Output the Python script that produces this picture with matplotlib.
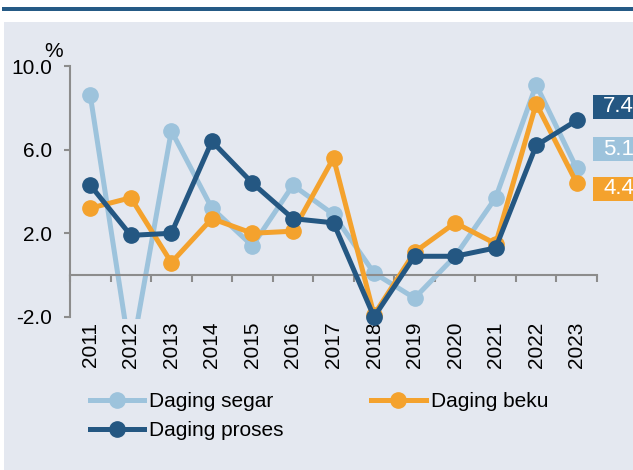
import matplotlib
matplotlib.use("Agg")
import matplotlib.pyplot as plt
from matplotlib.patches import Rectangle
from matplotlib.lines import Line2D
import numpy as np

years = [str(y) for y in range(2011, 2024)]
segar = [8.6, -4.0, 6.9, 3.2, 1.4, 4.3, 2.9, 0.1, -1.1, 0.9, 3.7, 9.1, 5.1]
beku = [3.2, 3.7, 0.6, 2.7, 2.0, 2.1, 5.6, -1.9, 1.1, 2.5, 1.5, 8.2, 4.4]
proses = [4.3, 1.9, 2.0, 6.4, 4.4, 2.7, 2.5, -2.0, 0.9, 0.9, 1.3, 6.2, 7.4]

c_segar = "#9DC3DC"
c_beku = "#F4A22D"
c_proses = "#245782"
bg = "#E4E8F0"
grey = "#8C8C8C"

plt.rcParams["font.family"] = ["Liberation Sans", "DejaVu Sans"]
W, H = 633, 470
fig = plt.figure(figsize=(W / 100, H / 100), dpi=100)
fig.patch.set_facecolor("white")

def fx(px):
    return px / W

def fy(py):
    return 1 - py / H

# background panel and top bar
fig.patches.append(Rectangle((fx(4), 0), 1, fy(22), transform=fig.transFigure,
                             facecolor=bg, edgecolor="none", zorder=-2))
fig.patches.append(Rectangle((fx(2), fy(11)), 1, 4 / H, transform=fig.transFigure,
                             facecolor="#255A85", edgecolor="none", zorder=-2))

ax = fig.add_axes([fx(70), fy(319), fx(597) - fx(70), fy(66) - fy(319)])
ax.set_facecolor("none")
ax.set_zorder(1)

# markers may poke a little below the plot area, as in the original
clip = Rectangle((-0.02, -0.04), 1.04, 1.1, transform=ax.transAxes,
                 facecolor="none", edgecolor="none")

x = np.arange(len(years))
series = [(segar, c_segar), (beku, c_beku), (proses, c_proses)]
for i, (vals, col) in enumerate(series):
    ax.plot(x, vals, color=col, lw=3.6, solid_capstyle="round", zorder=2 + i)
    m, = ax.plot(x, vals, ls="none", marker="o", ms=11, color=col, zorder=2 + i)
    m.set_clip_path(clip)

ax.set_xlim(-0.5, len(years) - 0.5)
ax.set_ylim(-2.1, 10)
ax.set_yticks([-2, 2, 6, 10])
ax.set_yticklabels(["-2.0", "2.0", "6.0", "10.0"])
ax.spines["left"].set_bounds(-2, 10)
ax.spines["bottom"].set_position(("data", 0))
ax.spines["top"].set_visible(False)
ax.spines["right"].set_visible(False)
for s in ["left", "bottom"]:
    ax.spines[s].set_color(grey)
    ax.spines[s].set_linewidth(1.5)
ax.set_xticks(np.arange(-0.5, len(years), 1.0))
ax.set_xticklabels([])
ax.tick_params(axis="x", direction="out", length=5, width=1.5, color=grey)
ax.tick_params(axis="y", direction="out", length=4, width=1.5, color=grey,
               labelsize=15, pad=9)

for i, yr in enumerate(years):
    ax.annotate(yr, xy=(i, 0), xycoords=ax.get_xaxis_transform(),
                xytext=(0, -2), textcoords="offset points",
                rotation=90, ha="center", va="top", fontsize=15)

fig.text(fx(54), fy(52), "%", fontsize=15, ha="center", va="center")

# end value boxes
boxes = [(proses, c_proses, 95), (segar, c_segar, 137), (beku, c_beku, 177)]
for vals, col, top in boxes:
    fig.patches.append(Rectangle((fx(593), fy(top + 24)), 1, 24 / H,
                                 transform=fig.transFigure, facecolor=col,
                                 edgecolor="none", zorder=5))
    fig.text(fx(603), fy(top + 12), f"{vals[-1]:.1f}", color="white", fontsize=16,
             ha="left", va="center", zorder=6)

handles = [
    Line2D([], [], color=c_segar, lw=3.6, marker="o", ms=11),
    Line2D([], [], color=c_proses, lw=3.6, marker="o", ms=11),
    Line2D([], [], color=c_beku, lw=3.6, marker="o", ms=11),
]
labels = ["Daging segar", "Daging proses", "Daging beku"]
fig.legend(handles, labels, ncol=2, loc="upper left",
           bbox_to_anchor=(fx(90), fy(392)), frameon=False, fontsize=15,
           handlelength=2.6, handletextpad=0.25, columnspacing=4.2,
           labelspacing=0.5, borderaxespad=0, borderpad=0)

fig.savefig("out.png", dpi=100)
